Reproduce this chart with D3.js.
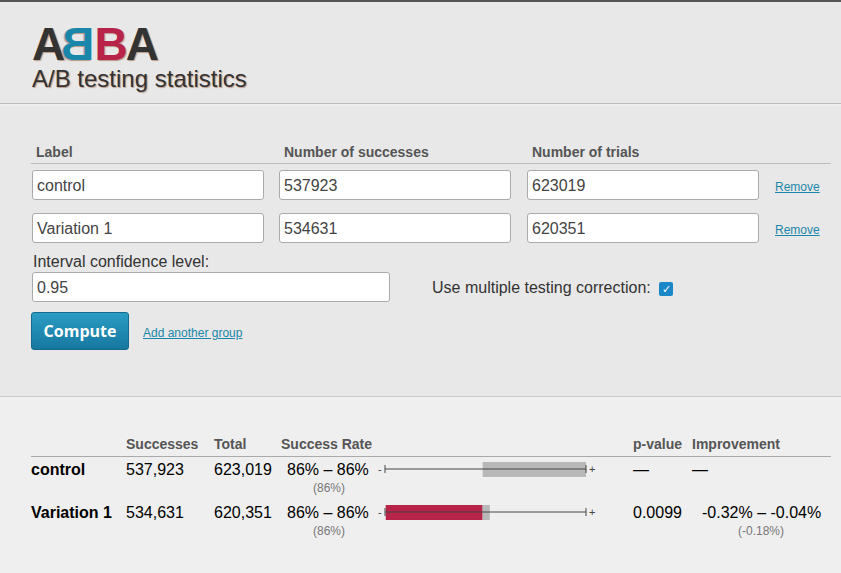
<!DOCTYPE html>
<html><head><meta charset="utf-8">
<script src="https://cdn.jsdelivr.net/npm/d3@7"></script>
<style>
body{margin:0;width:841px;height:573px;overflow:hidden;font-family:"Liberation Sans",Arial,sans-serif;color:#333;background:#efefef;}
#head{position:absolute;left:0;top:0;width:841px;height:104px;background:#e8e8e8;border-top:2px solid #555;box-sizing:border-box;border-bottom:1px solid #bbb;}
#logo{position:absolute;left:32px;top:22px;font-size:46px;line-height:40px;height:40px;font-weight:bold;letter-spacing:-2px;text-shadow:1px 1px 1px #b98;}
#sub{position:absolute;left:32px;top:64px;font-size:24px;line-height:26px;text-shadow:1px 1px 1px #b98;}
#form{position:absolute;left:0;top:106px;width:841px;height:290px;background:#e8e8e8;border-bottom:1px solid #ccc;}
.lab{position:absolute;font-size:14px;font-weight:bold;color:#555;}
.inp{position:absolute;height:30px;box-sizing:border-box;background:#fff;border:1px solid #aaa;border-radius:3px;font-size:16px;padding:6px 4px;color:#444;}
.rm{position:absolute;font-size:12px;color:#1a87aa;text-decoration:underline;}
svg{position:absolute;left:0;top:0;}
</style></head><body>
<div id="head"><div id="logo"><span>A</span><span style="color:#1a87aa;display:inline-block;transform:scaleX(-1)">B</span><span style="color:#b8234a">B</span><span>A</span></div>
<div id="sub">A/B testing statistics</div></div>
<div id="form"></div>
<svg id="res" width="841" height="573"></svg>
<script>
var labels=["control","Variation 1"];
var successes=[537923,534631];
var trials=[623019,620351];
var rateText=["86% \u2013 86%","86% \u2013 86%"];
var rateMid=["(86%)","(86%)"];
var ciLow=[0.86266,0.86131];
var ciHigh=[0.86410,0.86276];
var axisDomain=[0.8613,0.86410];
var pValues=["\u2014","0.0099"];
var improvement=["\u2014","-0.32% \u2013 -0.04%"];
var improvementMid=["","(-0.18%)"];

var form=d3.select("#form");
[["Label",36],["Number of successes",284],["Number of trials",532]].forEach(function(d){
  form.append("div").attr("class","lab").style("left",d[1]+"px").style("top","38px").text(d[0]);
});
form.append("div").style("position","absolute").style("left","31px").style("top","57px")
  .style("width","800px").style("height","1px").style("background","#bbb");
labels.forEach(function(l,i){
  var top=64+i*43;
  [[l,32],[successes[i],279],[trials[i],527]].forEach(function(c){
    form.append("div").attr("class","inp").style("left",c[1]+"px").style("top",top+"px")
      .style("width","232px").text(c[0]);
  });
  form.append("div").attr("class","rm").style("left","775px").style("top",(top+10)+"px").text("Remove");
});
form.append("div").style("position","absolute").style("left","33px").style("top","147px").style("font-size","16px").text("Interval confidence level:");
form.append("div").attr("class","inp").style("left","32px").style("top","166px").style("width","358px").text("0.95");
form.append("div").style("position","absolute").style("left","432px").style("top","173px").style("font-size","16px").text("Use multiple testing correction:");
form.append("div").style("position","absolute").style("left","659px").style("top","176px").style("width","14px").style("height","14px")
  .style("background","#1a87c8").style("border-radius","2px").style("color","#fff").style("font-size","11px").style("text-align","center").style("line-height","14px").text("\u2713");
form.append("div").style("position","absolute").style("left","31px").style("top","206px").style("width","96px").style("height","36px")
  .style("background","linear-gradient(#2a9cc4,#17789f)").style("border","1px solid #136a8c").style("border-radius","3px")
  .style("color","#fff").style("font-weight","bold").style("font-family","'Open Sans',sans-serif").style("font-size","16px").style("text-align","center").style("line-height","36px").text("Compute");
form.append("div").attr("class","rm").style("left","143px").style("top","220px").text("Add another group");

var svg=d3.select("#res");
var hdr=[["Successes",126],["Total",214],["Success Rate",281],["p-value",633],["Improvement",692]];
svg.selectAll("text.h").data(hdr).enter().append("text").attr("x",d=>d[1]).attr("y",449)
  .attr("font-size",14).attr("font-weight","bold").attr("fill","#555").text(d=>d[0]);
svg.append("line").attr("x1",31).attr("x2",831).attr("y1",456.5).attr("y2",456.5).attr("stroke","#aaa");

var x=d3.scaleLinear().domain(axisDomain).range([385,586]);
var fmt=d3.format(",");
labels.forEach(function(l,i){
  var y=[475,518][i], cy=[469,512][i];
  var g=svg.append("g");
  g.append("text").attr("x",31).attr("y",y).attr("font-size",16).attr("font-weight","bold").text(l);
  g.append("text").attr("x",126).attr("y",y).attr("font-size",16).text(fmt(successes[i]));
  g.append("text").attr("x",214).attr("y",y).attr("font-size",16).text(fmt(trials[i]));
  g.append("text").attr("x",287).attr("y",y).attr("font-size",16).text(rateText[i]);
  g.append("text").attr("x",329).attr("y",y+17).attr("font-size",12).attr("fill","#777").attr("text-anchor","middle").text(rateMid[i]);
  var base=ciLow[0];
  if(i===0){
    g.append("rect").attr("x",x(ciLow[i])).attr("width",x(ciHigh[i])-x(ciLow[i])).attr("y",cy-7).attr("height",15).attr("fill","#b8b8b8");
  }else{
    var redEnd=Math.min(ciHigh[i],base);
    g.append("rect").attr("x",x(ciLow[i])).attr("width",x(redEnd)-x(ciLow[i])).attr("y",cy-7).attr("height",15).attr("fill","#b8234a");
    g.append("rect").attr("x",x(redEnd)).attr("width",x(ciHigh[i])-x(redEnd)).attr("y",cy-7).attr("height",15).attr("fill","#b8b8b8");
  }
  g.append("line").attr("x1",x.range()[0]).attr("x2",x.range()[1]).attr("y1",cy).attr("y2",cy).attr("stroke","#444");
  x.range().forEach(function(px){g.append("line").attr("x1",px).attr("x2",px).attr("y1",cy-4).attr("y2",cy+4).attr("stroke","#444");});
  g.append("text").attr("x",378).attr("y",cy+4).attr("font-size",11).attr("fill","#444").text("-");
  g.append("text").attr("x",589).attr("y",cy+4).attr("font-size",11).attr("fill","#444").text("+");
  g.append("text").attr("x",633).attr("y",y).attr("font-size",16).text(pValues[i]);
  g.append("text").attr("x",i?702:692).attr("y",y).attr("font-size",16).text(improvement[i]);
  g.append("text").attr("x",761).attr("y",y+17).attr("font-size",12).attr("fill","#777").attr("text-anchor","middle").text(improvementMid[i]);
});
</script></body></html>
